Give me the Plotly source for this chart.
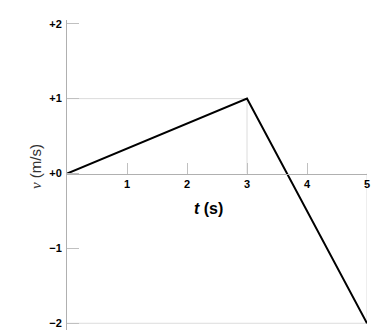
import plotly.graph_objects as go

# Data
t_values = [0, 3, 5]
v_values = [0, 1, -2]
x_ticks = [1, 2, 3, 4, 5]
y_ticks = [-2, -1, 0, 1, 2]
y_ticktext = ["\u22122", "\u22121", "+0", "+1", "+2"]

x_range = [0, 5]
y_range = [-2.09, 2.05]

W, H = 375, 333
ml, mr, mt, mb = 67, 8, 20, 3
pw = W - ml - mr
ph = H - mt - mb

def px_to_paper_x(px):
    return (px - ml) / pw

def px_to_paper_y(py):
    return (H - mb - py) / ph

fig = go.Figure()

# reference (drop) lines from each point to the axes
guide_color = "#dcdcdc"
for t, v in zip(t_values, v_values):
    if t == 0 and v == 0:
        continue
    fig.add_trace(go.Scatter(x=[0, t], y=[v, v], mode="lines",
                             line=dict(color=guide_color, width=1),
                             hoverinfo="skip", showlegend=False, cliponaxis=False))
    fig.add_trace(go.Scatter(x=[t, t], y=[0, v], mode="lines",
                             line=dict(color=guide_color, width=1),
                             hoverinfo="skip", showlegend=False, cliponaxis=False))

fig.add_trace(go.Scatter(x=t_values, y=v_values, mode="lines",
                         line=dict(color="black", width=2),
                         showlegend=False, cliponaxis=False))

pos0 = (0 - y_range[0]) / (y_range[1] - y_range[0])

tick_font = dict(family="Liberation Sans, Arial, sans-serif", size=11,
                 color="black", weight="bold")

fig.update_layout(
    width=W, height=H,
    margin=dict(l=ml, r=mr, t=mt, b=mb),
    paper_bgcolor="white", plot_bgcolor="white",
    xaxis=dict(range=x_range, tickvals=x_ticks, ticks="inside", ticklen=11,
               tickcolor="#c0c0c0", tickwidth=1, showline=True, linecolor="#b0b0b0",
               linewidth=1, showgrid=False, zeroline=False, anchor="free",
               position=pos0, tickfont=tick_font, fixedrange=True),
    yaxis=dict(range=y_range, tickvals=y_ticks, ticktext=y_ticktext,
               ticks="inside", ticklen=12, tickcolor="#c0c0c0", tickwidth=1,
               showline=True, linecolor="#b0b0b0", linewidth=1, showgrid=False,
               zeroline=False, tickfont=tick_font, ticklabelstandoff=2,
               fixedrange=True),
    annotations=[
        dict(text="<span style='font-family:Liberation Serif, serif'><i>v</i></span> (m/s)",
             xref="paper", yref="paper",
             x=px_to_paper_x(35), y=px_to_paper_y(167),
             xanchor="center", yanchor="middle",
             textangle=-90, showarrow=False,
             font=dict(family="Liberation Sans, Arial, sans-serif", size=15, color="#333")),
        dict(text="<i>t</i> (s)", xref="paper", yref="paper",
             x=px_to_paper_x(208), y=px_to_paper_y(209),
             xanchor="center", yanchor="middle", showarrow=False,
             font=dict(family="Liberation Sans, Arial, sans-serif", size=16,
                       color="black", weight="bold")),
    ],
)

fig.write_html("out.html")
